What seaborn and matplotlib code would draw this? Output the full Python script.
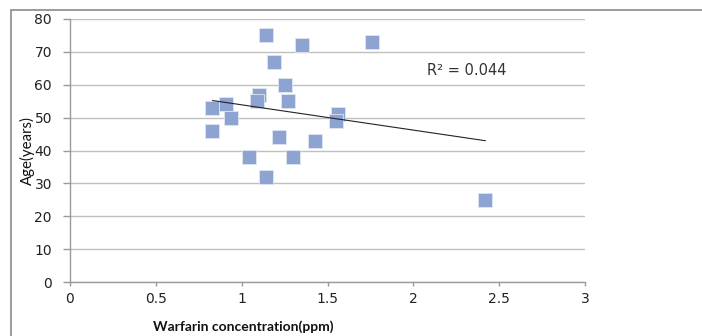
import numpy as np
import pandas as pd
import matplotlib
matplotlib.use("Agg")
import matplotlib.pyplot as plt
import seaborn as sns
from matplotlib.patches import Rectangle

# Data
warfarin_ppm = [1.14, 1.35, 1.76, 1.19, 1.25, 1.10, 1.09, 1.27, 0.91, 0.83,
                0.94, 1.56, 1.55, 0.83, 1.22, 1.43, 1.04, 1.30, 1.14, 2.42]
age_years = [75, 72, 73, 67, 60, 57, 55, 55, 54, 53,
             50, 51, 49, 46, 44, 43, 38, 38, 32, 25]
x_ticks = [0, 0.5, 1, 1.5, 2, 2.5, 3]
x_tick_labels = ["0", "0.5", "1", "1.5", "2", "2.5", "3"]
y_ticks = [0, 10, 20, 30, 40, 50, 60, 70, 80]
r2_label = "R² = 0.044"

df = pd.DataFrame({"x": warfarin_ppm, "y": age_years})

sns.set_theme(style="white")
plt.rcParams["font.family"] = ["DejaVu Sans"]

fig = plt.figure(figsize=(7.02, 3.36), dpi=100)
ax = fig.add_axes([70 / 702, 1 - 282 / 336, 515 / 702, 263 / 336])

# outer chart-area border
fig.patches.append(Rectangle((11 / 702, -0.1), 1.2, 1 - 9.5 / 336 + 0.1,
                             transform=fig.transFigure, fill=False,
                             edgecolor="#8a8a8a", linewidth=1.2, zorder=0))

sns.scatterplot(data=df, x="x", y="y", ax=ax, marker="s", s=95,
                color="#8DA3D1", edgecolor="#dfe6f2", linewidth=0.6, zorder=3)

# linear trendline
coef = np.polyfit(df["x"], df["y"], 1)
xs = np.array([df["x"].min(), df["x"].max()])
ax.plot(xs, np.polyval(coef, xs), color="#222222", linewidth=0.8, zorder=4)

ax.text(2.31, 64.4, r2_label, ha="center", va="center", fontsize=10.5,
        color="#333333", family="DejaVu Sans")

ax.set_xlim(0, 3)
ax.set_ylim(0, 80)
ax.set_xticks(x_ticks)
ax.set_xticklabels(x_tick_labels)
ax.set_yticks(y_ticks)
ax.grid(axis="y", color="#c0c0c0", linewidth=1.0)
ax.set_axisbelow(True)
for side in ["top", "right"]:
    ax.spines[side].set_visible(False)
for side in ["left", "bottom"]:
    ax.spines[side].set_color("#9a9a9a")
    ax.spines[side].set_linewidth(1.0)
ax.tick_params(axis="both", which="major", width=1.0,
               color="#9a9a9a", labelsize=10, labelcolor="#222222",
               direction="out", bottom=True, left=True)
ax.tick_params(axis="x", length=3, pad=4.5)
ax.tick_params(axis="y", length=5, pad=8)

ax.set_xlabel("Warfarin concentration(ppm)", fontsize=10, fontweight="bold",
              color="#111111", family=["Lato", "DejaVu Sans"])
ax.xaxis.set_label_coords(0.336, -0.17)
ax.xaxis.label.set_va("center")
ax.set_ylabel("Age(years)", fontsize=10.8, color="#111111", labelpad=0,
              family=["Lato", "DejaVu Sans"])
ax.yaxis.set_label_coords(-0.083, 0.5)
ax.yaxis.label.set_va("center")

fig.savefig("out.png", dpi=100)
